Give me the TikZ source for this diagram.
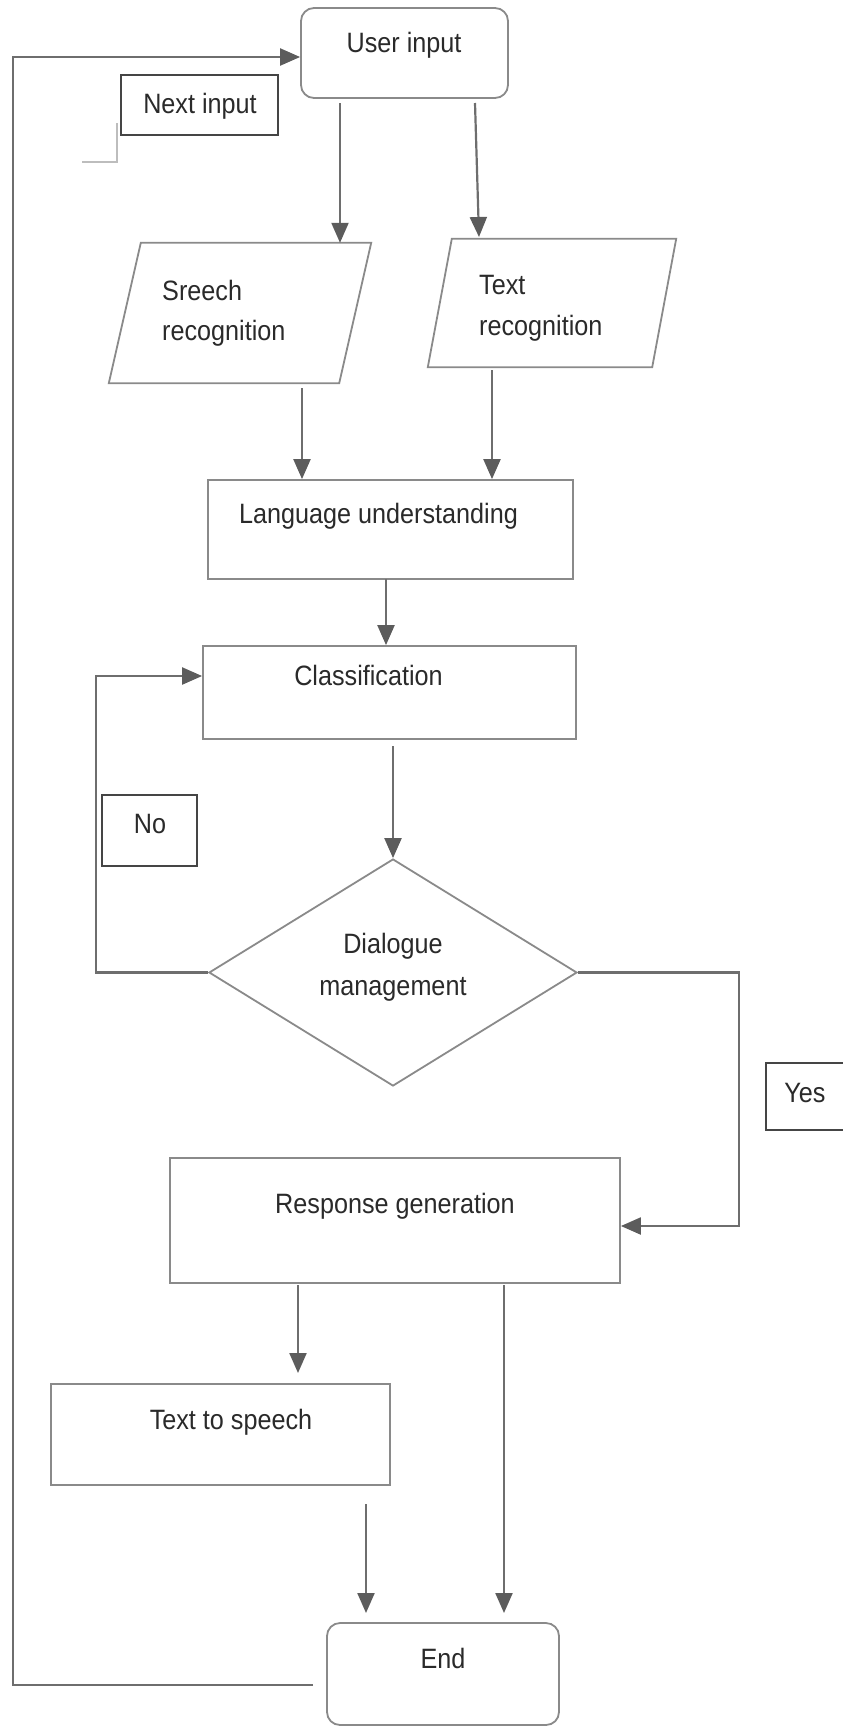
\documentclass[tikz,border=0pt]{standalone}
\usepackage{fontspec}
\setmainfont{Liberation Sans}[FakeStretch=0.9]
\usetikzlibrary{arrows.meta,shapes.geometric}
\definecolor{edge}{HTML}{8A8A8A}
\definecolor{wire}{HTML}{6E6E6E}
\definecolor{tipc}{HTML}{5C5C5C}
\definecolor{ink}{HTML}{2A2A2A}
\definecolor{dark}{HTML}{454545}
\definecolor{faint}{HTML}{BDBDBD}
\tikzset{
  flowbox/.style={draw=edge, line width=1.8pt, rectangle, inner sep=0pt, fill=white},
  rbox/.style={flowbox, rounded corners=13pt},
  tagbox/.style={draw=dark, line width=2pt, rectangle, inner sep=0pt, fill=white},
  ghost/.style={draw=none, rectangle, inner sep=0pt},
  txt/.style={text=ink, inner sep=0pt, font=\fontsize{28}{34}\selectfont},
  edgeline/.style={draw=edge, line width=1.8pt, line join=miter},
  wireline/.style={draw=wire, line width=2.2pt},
  arr/.style={wireline, -{Triangle[length=20pt,width=17pt,color=tipc]}},
}
\begin{document}
\begin{tikzpicture}[x=1pt,y=-1pt]
\useasboundingbox (0,0) rectangle (843,1727);

% ---------- shapes ----------
\node[rbox, minimum width=207pt, minimum height=90pt] (user) at (404.5,53) {};
\node[tagbox, minimum width=157pt, minimum height=60pt] (next) at (199.5,105) {};

\node[ghost, minimum width=230pt, minimum height=140pt] (sp) at (240,313) {};
\draw[edgeline] ([xshift=16pt]sp.north west) -- ([xshift=16pt]sp.north east)
  -- ([xshift=-16pt]sp.south east) -- ([xshift=-16pt]sp.south west) -- cycle;

\node[ghost, minimum width=224pt, minimum height=128pt] (tr) at (552,303) {};
\draw[edgeline] ([xshift=12pt]tr.north west) -- ([xshift=12pt]tr.north east)
  -- ([xshift=-12pt]tr.south east) -- ([xshift=-12pt]tr.south west) -- cycle;

\node[flowbox, minimum width=365pt, minimum height=99pt] (lang) at (390.5,529.5) {};
\node[flowbox, minimum width=373pt, minimum height=93pt] (cls) at (389.5,692.5) {};
\node[tagbox, minimum width=95pt, minimum height=71pt] (no) at (149.5,830.5) {};
\node[flowbox, diamond, minimum width=368pt, minimum height=227pt] (dm) at (393,972.5) {};
\node[tagbox, minimum width=90pt, minimum height=67pt] (yes) at (811,1096.5) {};
\node[flowbox, minimum width=450pt, minimum height=125pt] (resp) at (395,1220.5) {};
\node[flowbox, minimum width=339pt, minimum height=101pt] (tts) at (220.5,1434.5) {};
\node[rbox, minimum width=232pt, minimum height=102pt] (endn) at (443,1674) {};

% faint corner mark near "Next input"
\draw[faint, line width=1.5pt] (117,123) -- (117,162) -- (82,162);

% ---------- texts ----------
\node[txt, anchor=base] (t-user) at (404,52) {User input};
\node[txt, anchor=base] (t-next) at (200,113) {Next input};
\node[txt, anchor=base west] (t-sp1) at (162,300) {Sreech};
\node[txt, anchor=base west] (t-sp2) at (162,340) {recognition};
\node[txt, anchor=base west] (t-tr1) at (479,294) {Text};
\node[txt, anchor=base west] (t-tr2) at (479,335) {recognition};
\node[txt, anchor=base] (t-lang) at (378.5,523) {Language understanding};
\node[txt, anchor=base] (t-cls) at (368.5,685) {Classification};
\node[txt, anchor=base] (t-no) at (150,833) {No};
\node[txt, anchor=base] (t-dm1) at (393,953) {Dialogue};
\node[txt, anchor=base] (t-dm2) at (393,995) {management};
\node[txt, anchor=base] (t-yes) at (805,1102) {Yes};
\node[txt, anchor=base] (t-resp) at (395,1213) {Response generation};
\node[txt, anchor=base] (t-tts) at (231,1429) {Text to speech};
\node[txt, anchor=base] (t-end) at (443,1668) {End};

% ---------- connector anchor points ----------
\coordinate (u1) at (340,103);
\coordinate (u2) at (475,103);
\coordinate (u2e) at (479,237);
\coordinate (s1) at (302,388);
\coordinate (r1) at (492,370);
\coordinate (l1) at (386,579);
\coordinate (c1) at (393,746);
\coordinate (noX) at (96,0);
\coordinate (yesX) at (739,0);
\coordinate (yesY) at (0,1226);
\coordinate (g1) at (298,1285);
\coordinate (g1e) at (298,1373);
\coordinate (g2) at (504,1285);
\coordinate (g2e) at (504,1613);
\coordinate (t1) at (366,1504);
\coordinate (t1e) at (366,1613);
\coordinate (e1) at (313,1685);
\coordinate (loopX) at (13,0);

% ---------- connectors ----------
\draw[arr] (u1) -- (u1 |- sp.north);
\draw[arr] (u2) -- (u2e);
\draw[arr] (s1) -- (s1 |- lang.north);
\draw[arr] (r1) -- (r1 |- lang.north);
\draw[arr] (l1) -- (l1 |- cls.north);
\draw[arr] (c1) -- (dm.north);
\draw[arr] (dm.west) -- (noX |- dm.west) -- (noX |- 0,676) -- (cls.west |- 0,676);
\draw[arr] (dm.east) -- (yesX |- dm.east) -- (yesX |- yesY) -- (resp.east |- yesY);
\draw[arr] (g1) -- (g1e);
\draw[arr] (g2) -- (g2e);
\draw[arr] (t1) -- (t1e);
\draw[arr] (e1) -- (loopX |- e1) -- (loopX |- 0,57) -- (user.west |- 0,57);
\end{tikzpicture}
\end{document}
